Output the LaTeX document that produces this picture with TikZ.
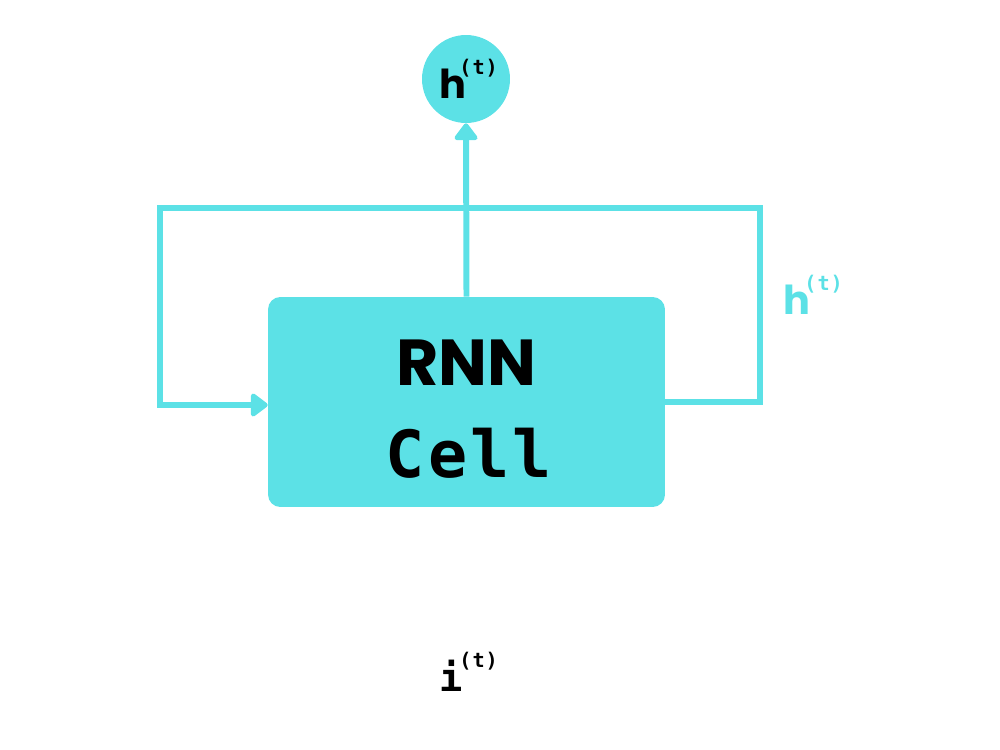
\documentclass[tikz,border=0pt]{standalone}
\usepackage{fontspec}
\setmainfont{Poppins}
\newfontfamily\popb{Poppins}[UprightFont=* Bold]
\newfontfamily\monob{DejaVu Sans Mono Bold}
\newfontfamily\monobw{DejaVu Sans Mono Bold}[LetterSpace=5]
\usetikzlibrary{arrows.meta}
\definecolor{rnncyan}{HTML}{5CE1E6}
\tikzset{
  conn/.style={draw=rnncyan, line width=3.4pt, line join=miter},
  tip/.style={-{Triangle[round,length=10.5pt,width=15pt]}},
  lbl/.style={inner sep=0pt, anchor=base west},
}
\begin{document}
\begin{tikzpicture}[x=0.02cm,y=-0.02cm]
\useasboundingbox (0,0) rectangle (1000,750);
% nodes
\node[circle, fill=rnncyan, minimum size=1.76cm, inner sep=0pt] (hout) at (466,79) {};
\node[rectangle, rounded corners=7pt, fill=rnncyan, minimum width=7.94cm, minimum height=4.2cm, inner sep=0pt] (cell) at (466.5,402) {};
% texts
\node[inner sep=0pt, anchor=base] (rnn) at (466.5,385) {\fontsize{37}{37}\popb RNN};
\node[inner sep=0pt, anchor=base] (celltxt) at (469,477) {\fontsize{37}{37}\monobw Cell};
\node[lbl] (hlbl) at (439,98) {\fontsize{22.7}{22.7}\popb h};
\node[lbl] (hsup) at (459,74) {\fontsize{11.5}{11.5}\monobw (t)};
\node[lbl, text=rnncyan] (hrlbl) at (783,314) {\fontsize{22.7}{22.7}\popb h};
\node[lbl, text=rnncyan] (hrsup) at (804,290) {\fontsize{11.5}{11.5}\monobw (t)};
\node[lbl] (ilbl) at (439,691) {\fontsize{22}{22}\monob i};
\node[lbl] (isup) at (459,667) {\fontsize{11.5}{11.5}\monobw (t)};
% connectors
\coordinate (rb) at (760,402);
\coordinate (rt) at (760,208);
\coordinate (lt) at (160,208);
\coordinate (lb) at (160,405);
\draw[conn, tip] (cell.north) -- (hout.south);
\draw[conn, tip] (cell.east |- rb) -- (rb) -- (rt) -- (lt) -- (lb) -- (cell.west |- lb);
\end{tikzpicture}
\end{document}
